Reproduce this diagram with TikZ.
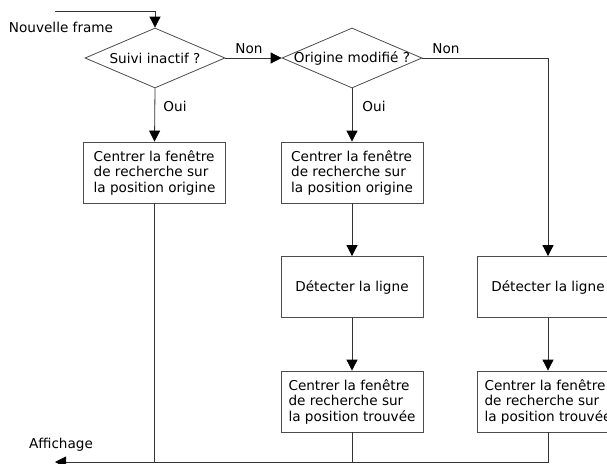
\documentclass[tikz,border=0pt]{standalone}
\usepackage{fontspec}
\setmainfont{DejaVu Sans}
\usetikzlibrary{shapes.geometric,arrows.meta}
\begin{document}
\begin{tikzpicture}[x=1pt,y=-1pt,
  txt/.style={font=\fontsize{13.6pt}{15.5pt}\selectfont, inner sep=0pt},
  decision/.style={diamond, draw=black!70, line width=0.8pt, minimum width=140pt, minimum height=60pt, inner sep=0pt},
  box/.style={rectangle, draw=black!70, line width=0.8pt, minimum width=142pt, minimum height=61pt, align=left, font=\fontsize{13.6pt}{15.5pt}\selectfont, inner sep=0pt},
  line/.style={draw=black!80, line width=0.8pt},
  arrow/.style={line, -{Triangle[width=11pt,length=11pt,color=black]}}]
\useasboundingbox (0,0) rectangle (607,463);
% decisions
\node[decision] (d1) at (155,58) {};
\node[txt] (d1t) at (d1.center) {Suivi inactif ?};
\node[decision] (d2) at (352,58) {};
\node[txt] (d2t) at (d2.center) {Origine modifié ?};
% boxes
\node[box] (b1) at (154.5,172.5) {Centrer la fenêtre\\de recherche sur\\la position origine};
\node[box] (b21) at (352,172.5) {Centrer la fenêtre\\de recherche sur\\la position origine};
\node[box] (b22) at (352,287) {Détecter la ligne};
\node[box] (b23) at (352,401.5) {Centrer la fenêtre\\de recherche sur\\la position trouvée};
\node[box] (b32) at (548,287) {Détecter la ligne};
\node[box] (b33) at (548,401.5) {Centrer la fenêtre\\de recherche sur\\la position trouvée};
% texts
\node[txt] (nf) at (61,27) {Nouvelle frame};
\node[txt] (aff) at (61,445) {Affichage};
\node[txt] (non1) at (249,49) {Non};
\node[txt] (non2) at (446,49) {Non};
\node[txt] (oui1) at (175,106) {Oui};
\node[txt] (oui2) at (374,106) {Oui};
% coordinates
\coordinate (in) at (55,11);
\coordinate (out) at (55,462);
% connectors
\draw[arrow] (in) -| (d1.north);
\draw[arrow] (d1.east) -- (d2.west);
\draw[arrow] (d1.south) -- (b1.north);
\draw[arrow] (d2.south) -- (b21.north);
\draw[arrow] (d2.east) -| (b32.north);
\draw[arrow] (b21.south) -- (b22.north);
\draw[arrow] (b22.south) -- (b23.north);
\draw[arrow] (b32.south) -- (b33.north);
\draw[line] (b1.south) -- (b1.south |- out);
\draw[line] (b23.south) -- (b23.south |- out);
\draw[arrow] (b33.south) |- (out);
\end{tikzpicture}
\end{document}
